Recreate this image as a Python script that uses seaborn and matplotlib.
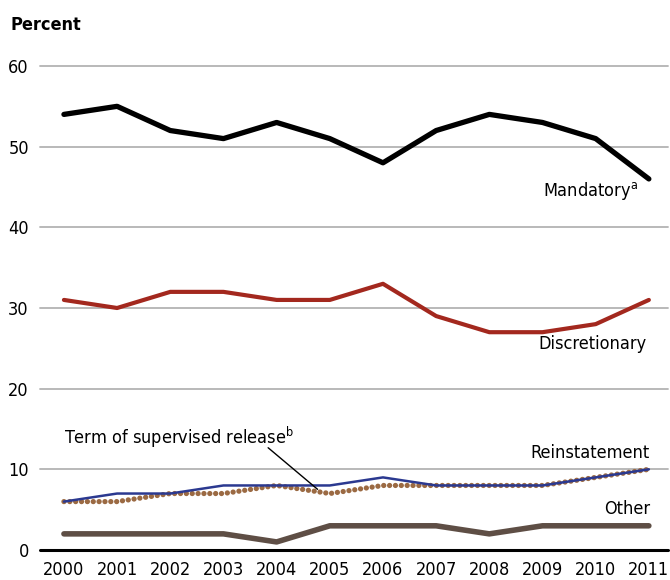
import matplotlib
matplotlib.use("Agg")
import matplotlib.pyplot as plt
import pandas as pd
import seaborn as sns

# Datos
anios = list(range(2000, 2012))
mandatory = [54, 55, 52, 51, 53, 51, 48, 52, 54, 53, 51, 46]
discretionary = [31, 30, 32, 32, 31, 31, 33, 29, 27, 27, 28, 31]
reinstatement = [6, 7, 7, 8, 8, 8, 9, 8, 8, 8, 9, 10]
supervised = [6, 6, 7, 7, 8, 7, 8, 8, 8, 8, 9, 10]
other = [2, 2, 2, 2, 1, 3, 3, 3, 2, 3, 3, 3]
y_ticks = [0, 10, 20, 30, 40, 50, 60]


def main():
    sns.set_style("white")
    plt.rcParams["font.family"] = ["DejaVu Sans"]
    plt.rcParams["font.stretch"] = "condensed"
    plt.rcParams["text.color"] = "black"
    plt.rcParams["xtick.color"] = "black"
    plt.rcParams["ytick.color"] = "black"

    df = pd.DataFrame({
        "year": anios,
        "Mandatory": mandatory,
        "Discretionary": discretionary,
        "Reinstatement": reinstatement,
        "Supervised": supervised,
        "Other": other,
    })

    fig = plt.figure(figsize=(6.7, 5.8), dpi=100)
    ax = fig.add_axes([40 / 670, 30 / 580, 628 / 670, 484 / 580])

    # Lineas de referencia
    for t in y_ticks[1:]:
        ax.axhline(t, color="#b3b3b3", lw=1.3, zorder=0, clip_on=False)
    ax.axhline(0, color="black", lw=2.2, zorder=1, clip_on=False)

    estilos = [
        ("Other", "#5e4e45", 4.0),
        ("Reinstatement", "#2b3990", 1.8),
        ("Discretionary", "#a3281e", 3.0),
        ("Mandatory", "black", 3.8),
    ]
    for col, color, lw in estilos:
        sns.lineplot(data=df, x="year", y=col, color=color, lw=lw, ax=ax,
                     solid_capstyle="round", clip_on=False, zorder=3)

    # Linea punteada (supervised release)
    sns.lineplot(data=df, x="year", y="Supervised", color="#9b6a43", lw=3.8, ax=ax,
                 linestyle=(0, (0.01, 1.1)), dash_capstyle="round",
                 clip_on=False, zorder=2)

    ax.set_xlim(1999.55, 2011.36)
    ax.set_ylim(0, 60)
    ax.set_xticks(anios)
    ax.set_yticks(y_ticks)
    ax.tick_params(axis="both", length=0, labelsize=13)
    ax.tick_params(axis="y", pad=8)
    ax.tick_params(axis="x", pad=8)
    ax.set_xlabel("")
    ax.set_ylabel("")
    for s in ax.spines.values():
        s.set_visible(False)

    fig.text(10 / 670, 1 - 25 / 580, "Percent", fontsize=13, fontweight="bold",
             va="center", ha="left")

    # Etiquetas de series
    fs = 13
    ax.text(2010.8, 44.5, "Mandatory$^{\\mathregular{a}}$", fontsize=fs, ha="right", va="center")
    ax.text(2010.95, 25.5, "Discretionary", fontsize=fs, ha="right", va="center")
    ax.text(2011.02, 12.0, "Reinstatement", fontsize=fs, ha="right", va="center")
    ax.text(2011.02, 5.1, "Other", fontsize=fs, ha="right", va="center")
    ax.text(2000.0, 13.9, "Term of supervised release$^{\\mathregular{b}}$", fontsize=fs,
            ha="left", va="center")
    ax.annotate("", xy=(2004.81, 7.3), xytext=(2003.8, 12.9),
                arrowprops=dict(arrowstyle="-", color="black", lw=1.0))

    fig.savefig("out.png", dpi=100)
    plt.close(fig)


if __name__ == "__main__":
    main()
